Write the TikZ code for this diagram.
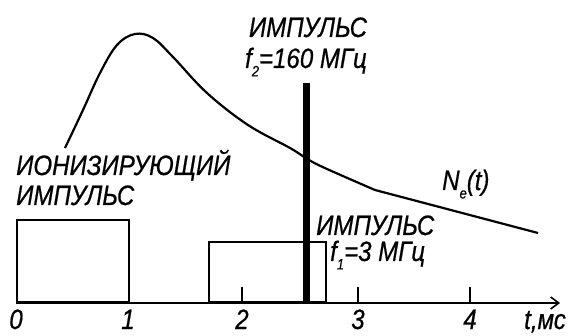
\documentclass[tikz,border=0pt]{standalone}
\usepackage{fontspec}
\setmainfont{Liberation Sans}[FakeStretch=0.86,FakeBold=0.6]
\usetikzlibrary{arrows.meta}
\newcommand{\lowidx}[1]{\raisebox{-0.3em}{\fontsize{15}{15}\selectfont #1}}
\begin{document}
\begin{tikzpicture}[x=1pt,y=-1pt,
  lab/.style={inner sep=0pt,font=\fontsize{28}{28}\selectfont\itshape},
  thinln/.style={line width=2pt},
  tickln/.style={line width=1.6pt}]
\useasboundingbox (0,0) rectangle (572,336);
% axis
\coordinate (a0) at (16,303);
\coordinate (aend) at (560,303);
\draw[thinln,-{Straight Barb[length=8pt,width=12pt,line width=1.6pt]}] (a0) -- (aend);
% ticks
\foreach \n/\x in {t2/242,t3/358,t4/470}{
  \coordinate (\n b) at (\x,303);
  \coordinate (\n t) at (\x,287);
  \draw[tickln] (\n b) -- (\n t);
}
% ionizing pulse box
\node[draw,thinln,minimum width=112pt,minimum height=82pt,inner sep=0pt,anchor=south west] (ion) at (16,303) {};
% f1 pulse box
\node[draw,thinln,minimum width=117pt,minimum height=60pt,inner sep=0pt,anchor=south west] (pf1) at (208,303) {};
% f2 bar
\coordinate (bartop) at (306,83);
\coordinate (barbot) at (306,303);
\draw[line width=7pt] (bartop) -- (barbot);
% curve
\draw[line width=2.2pt,line join=round] plot[smooth,tension=0.6] coordinates {(65,148) (83,110) (100,73) (117,45) (135,34) (153,38) (173,57) (207,93) (248,125) (290,148) (309,160) (327,169) (375,190)} -- (538,233);
% labels
\node[lab,anchor=base] (imp2) at (308,37) {ИМПУЛЬС};
\node[lab,anchor=base] (f2) at (306,68) {f\lowidx{2}=160 МГц};
\node[lab,anchor=base west] (ion1) at (16,175) {ИОНИЗИРУЮЩИЙ};
\node[lab,anchor=base west] (ion2) at (16,205) {ИМПУЛЬС};
\node[lab,anchor=base west] (imp1) at (316,235) {ИМПУЛЬС};
\node[lab,anchor=base west] (f1) at (330,261) {f\lowidx{1}=3 МГц};
\node[lab,anchor=base west] (ne) at (442,190) {N\lowidx{e}(t)};
\foreach \n/\x/\t in {l0/16/0,l1/128/1,l2/242/2,l3/358/3,l4/470/4}{
  \node[lab,anchor=base] (\n) at (\x,329) {\t};
}
\node[lab,anchor=base west] (tl) at (524,329) {t,мс};
\end{tikzpicture}
\end{document}
